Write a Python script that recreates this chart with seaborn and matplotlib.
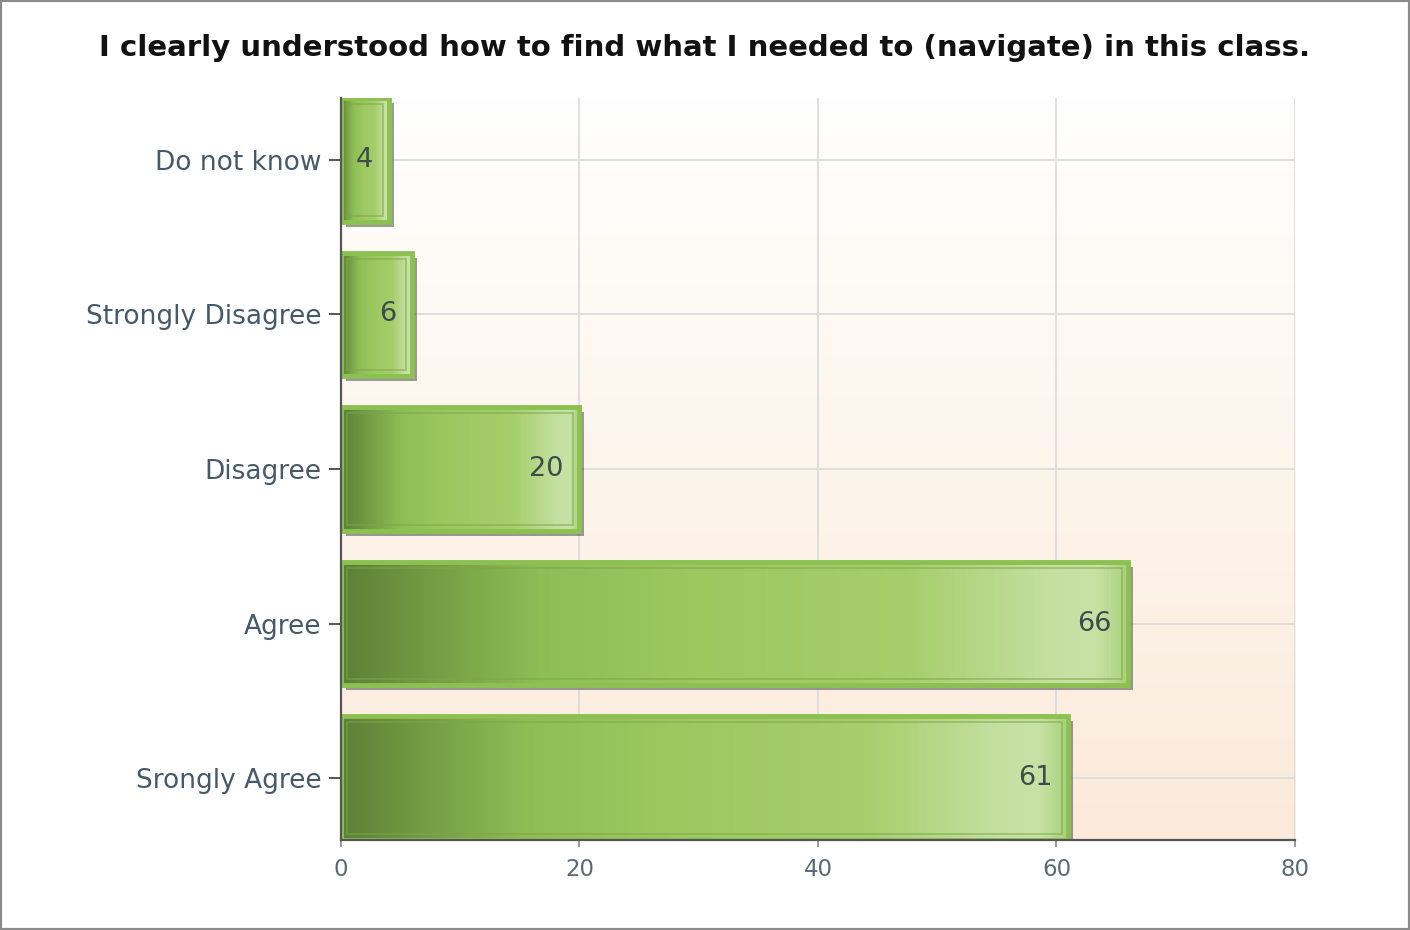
import numpy as np
import pandas as pd
import matplotlib
matplotlib.use("Agg")
import matplotlib.pyplot as plt
import seaborn as sns
from matplotlib.colors import LinearSegmentedColormap
from matplotlib.patches import Rectangle
from matplotlib.transforms import offset_copy

# survey answers, top to bottom as shown
categories = ["Do not know", "Strongly Disagree", "Disagree", "Agree", "Srongly Agree"]
counts = [4, 6, 20, 66, 61]
x_ticks = [0, 20, 40, 60, 80]
title = "I clearly understood how to find what I needed to (navigate) in this class."

df = pd.DataFrame({"answer": categories, "count": counts})

sns.set_theme(style="white")
plt.rcParams["font.family"] = ["DejaVu Sans"]

fig = plt.figure(figsize=(14.1, 9.3), dpi=100)
ax = fig.add_axes([0.2418, 0.0968, 0.6766, 0.7978])

sns.barplot(data=df, x="count", y="answer", orient="h", ax=ax, width=0.8,
            color="#9dc860", saturation=1)

XLIM, YLIM = (0, 80), (4.4, -0.4)

# background: white at top fading to pale peach
bg = LinearSegmentedColormap.from_list("bg", ["#ffffff", "#fdf5ec", "#fbeadb"])
ax.imshow(np.linspace(0, 1, 256).reshape(-1, 1), cmap=bg, aspect="auto",
          extent=[0, 80, 4.4, -0.4], zorder=0)
ax.set_xlim(*XLIM)
ax.set_ylim(*YLIM)

# horizontal gradient for the bars
bar_cmap = LinearSegmentedColormap.from_list("bar", [
    (0.00, "#5c7f37"), (0.08, "#6d9440"), (0.25, "#8ebd56"), (0.45, "#9dc860"),
    (0.72, "#a6ce6c"), (0.90, "#c4dfa0"), (0.96, "#c8e2a6"), (1.00, "#a9d07a")])
grad = np.linspace(0, 1, 256).reshape(1, -1)
shadow_tr = offset_copy(ax.transData, fig=fig, x=5, y=-5, units="dots")

# data units per pixel, for the inner outline inset
px_x = (XLIM[1] - XLIM[0]) / (fig.get_figwidth() * fig.dpi * 0.6766)
px_y = (YLIM[0] - YLIM[1]) / (fig.get_figheight() * fig.dpi * 0.7978)

for bar in list(ax.patches):
    x0, y0 = bar.get_x(), bar.get_y()
    w, h = bar.get_width(), bar.get_height()
    ax.add_patch(Rectangle((x0, y0), w, h, transform=shadow_tr,
                           facecolor="#4a4a4a", alpha=0.55, lw=0, zorder=1.5))
    im = ax.imshow(grad, cmap=bar_cmap, aspect="auto",
                   extent=[x0, x0 + w, y0 + h, y0], zorder=2)
    im.set_clip_path(bar)
    ins_x, ins_y = 6 * px_x, 6 * px_y
    ax.add_patch(Rectangle((x0 + ins_x, y0 + ins_y), w - 2 * ins_x, h - 2 * ins_y,
                           facecolor="none", edgecolor="#7ea64a", alpha=0.6,
                           lw=1.2, zorder=2.5))
    bar.set_facecolor("none")
    bar.set_edgecolor("#8cc152")
    bar.set_linewidth(3.5)
    bar.set_zorder(3)
ax.set_xlim(*XLIM)
ax.set_ylim(*YLIM)

for i, v in enumerate(counts):
    ax.annotate(str(v), xy=(v, i), xytext=(-16, 0), textcoords="offset pixels",
                ha="right", va="center", fontsize=19.5, color="#3c4c4c", zorder=4)

ax.set_xticks(x_ticks)
ax.grid(True, color="#dcdcdc", linewidth=1.3)
ax.set_axisbelow(True)
ax.set_xlabel("")
ax.set_ylabel("")

for side in ["top", "right"]:
    ax.spines[side].set_visible(False)
for side in ["left", "bottom"]:
    ax.spines[side].set_color("#555555")
    ax.spines[side].set_linewidth(1.6)
    ax.spines[side].set_zorder(5)

ax.tick_params(axis="y", length=9, width=1.4, color="#555555", pad=5,
               labelsize=19, labelcolor="#45596a", left=True)
ax.tick_params(axis="x", length=5, width=1.2, color="#888888", pad=8,
               labelsize=16.5, labelcolor="#5a6a7a", bottom=True)

fig.text(0.5, 1 - 48 / 930, title, ha="center", va="center",
         fontsize=21, fontweight="bold", color="#111111")

fig.add_artist(Rectangle((0, 0), 1, 1, transform=fig.transFigure, fill=False,
                         edgecolor="#8a8a8a", linewidth=3))

fig.savefig("out.png", dpi=100, facecolor="white")
